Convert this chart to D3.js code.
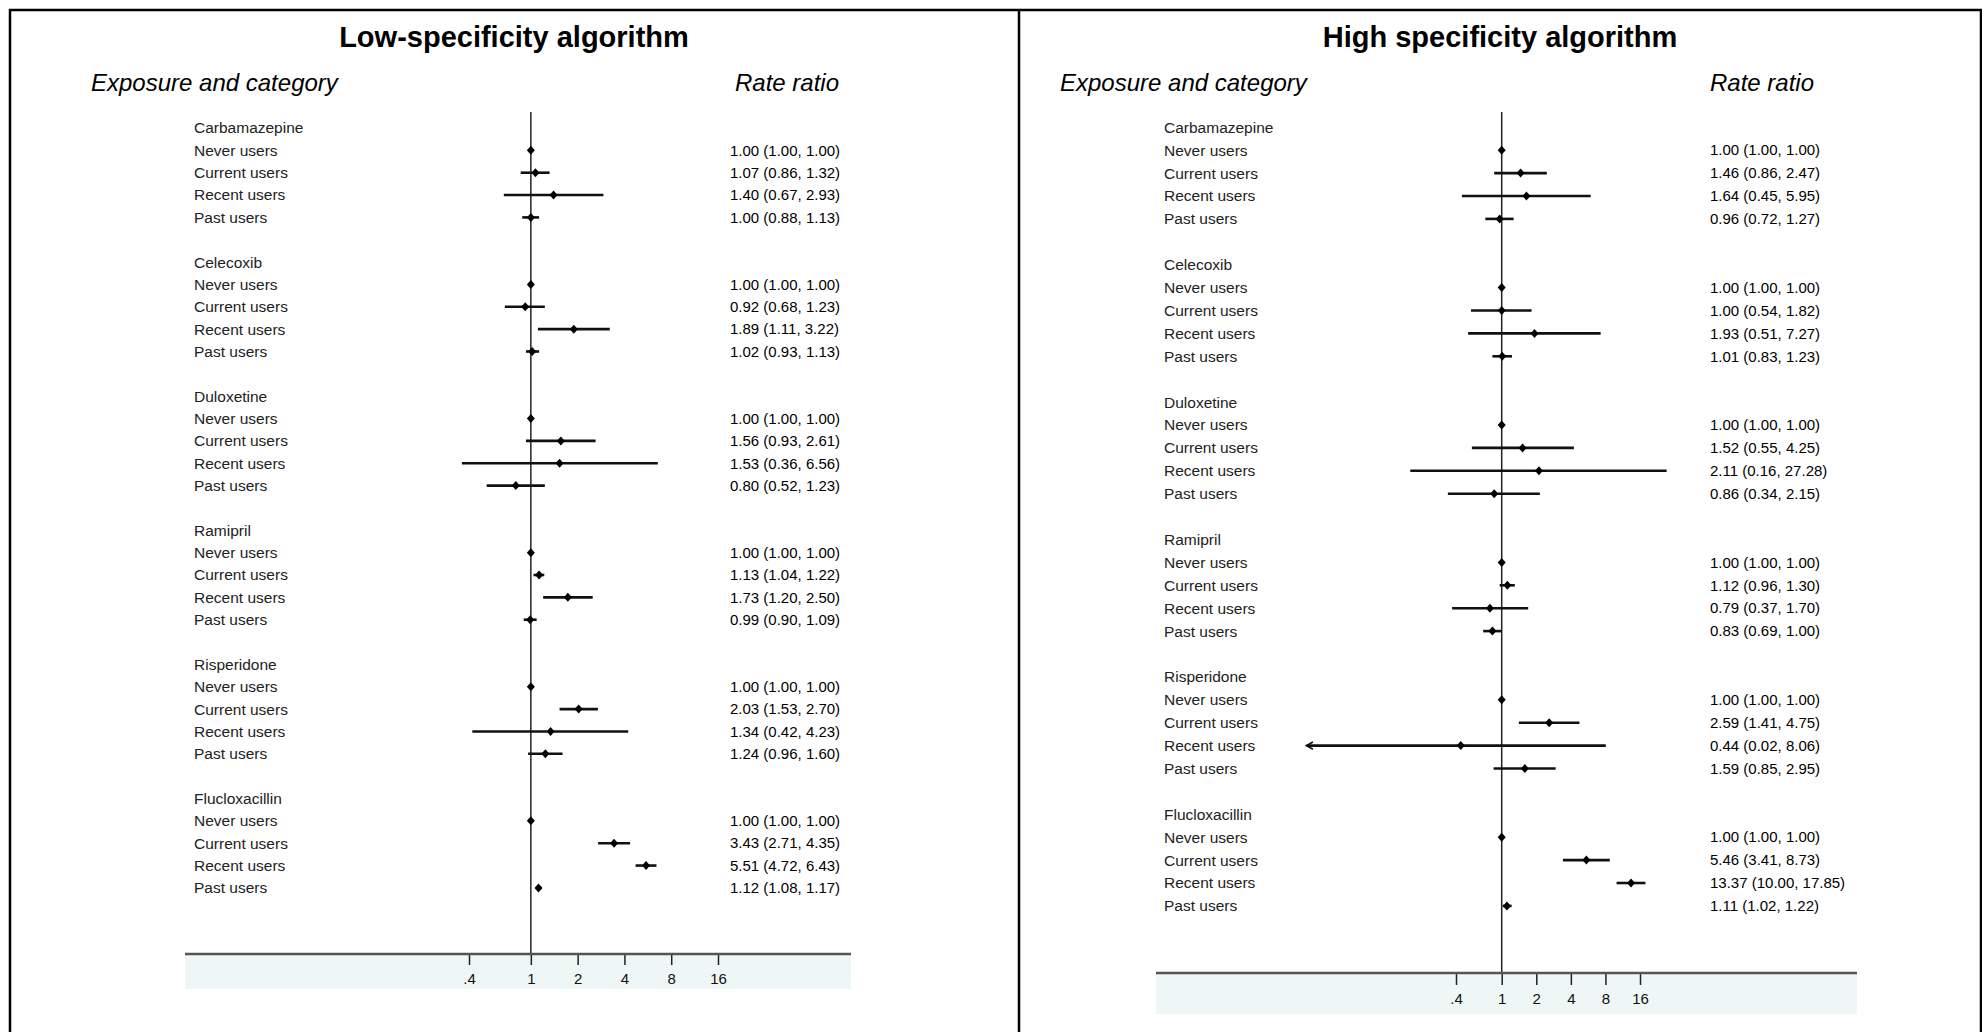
<!DOCTYPE html>
<html>
<head>
<meta charset="utf-8">
<script src="https://cdn.jsdelivr.net/npm/d3@7"></script>
<style>
body { margin: 0; background: #fff; }
svg text { font-family: "Liberation Sans", Arial, sans-serif; }
</style>
</head>
<body>
<svg width="1982" height="1032"></svg>
<script>
// drugs and exposure categories (same in both panels)
const drugs = ["Carbamazepine", "Celecoxib", "Duloxetine", "Ramipril", "Risperidone", "Flucloxacillin"];
const categories = ["Never users", "Current users", "Recent users", "Past users"];
const tickVals = [0.4, 1, 2, 4, 8, 16];
const tickLabels = [".4", "1", "2", "4", "8", "16"];

// low-specificity algorithm: rate ratio, lower, upper (per drug, per category)
const lowRR = [1.00, 1.07, 1.40, 1.00,  1.00, 0.92, 1.89, 1.02,  1.00, 1.56, 1.53, 0.80,
               1.00, 1.13, 1.73, 0.99,  1.00, 2.03, 1.34, 1.24,  1.00, 3.43, 5.51, 1.12];
const lowLo = [1.00, 0.86, 0.67, 0.88,  1.00, 0.68, 1.11, 0.93,  1.00, 0.93, 0.36, 0.52,
               1.00, 1.04, 1.20, 0.90,  1.00, 1.53, 0.42, 0.96,  1.00, 2.71, 4.72, 1.08];
const lowHi = [1.00, 1.32, 2.93, 1.13,  1.00, 1.23, 3.22, 1.13,  1.00, 2.61, 6.56, 1.23,
               1.00, 1.22, 2.50, 1.09,  1.00, 2.70, 4.23, 1.60,  1.00, 4.35, 6.43, 1.17];

// high specificity algorithm
const highRR = [1.00, 1.46, 1.64, 0.96,  1.00, 1.00, 1.93, 1.01,  1.00, 1.52, 2.11, 0.86,
                1.00, 1.12, 0.79, 0.83,  1.00, 2.59, 0.44, 1.59,  1.00, 5.46, 13.37, 1.11];
const highLo = [1.00, 0.86, 0.45, 0.72,  1.00, 0.54, 0.51, 0.83,  1.00, 0.55, 0.16, 0.34,
                1.00, 0.96, 0.37, 0.69,  1.00, 1.41, 0.02, 0.85,  1.00, 3.41, 10.00, 1.02];
const highHi = [1.00, 2.47, 5.95, 1.27,  1.00, 1.82, 7.27, 1.23,  1.00, 4.25, 27.28, 2.15,
                1.00, 1.30, 1.70, 1.00,  1.00, 4.75, 8.06, 2.95,  1.00, 8.73, 17.85, 1.22];

const svg = d3.select("svg");
const f2 = d3.format(".2f");

// outer frame
svg.append("path")
  .attr("d", "M10,1040 V10 H1981 V1040 M1019,10 V1040")
  .attr("fill", "none").attr("stroke", "#000").attr("stroke-width", 2.5);

// open arrow head for a CI cut at the left
svg.append("defs").append("marker")
  .attr("id", "arrow").attr("viewBox", "0 0 10 10")
  .attr("refX", 2).attr("refY", 5)
  .attr("markerWidth", 3.5).attr("markerHeight", 5)
  .attr("markerUnits", "strokeWidth")
  .attr("orient", "auto")
  .append("path").attr("d", "M9,1 L2,5 L9,9")
  .attr("fill", "none").attr("stroke", "#111").attr("stroke-width", 1.8);

function drawPanel(p) {
  const g = svg.append("g");
  const x = d3.scaleLog().base(2).domain([0.4, 16]).range(p.xr);
  const y = d3.scaleLinear().domain([0, 34]).range([p.y0, p.y0 + 34 * p.step]);

  g.append("text").attr("x", p.titleX).attr("y", 47)
    .attr("text-anchor", "middle").style("font-size", "29px").style("font-weight", "bold")
    .text(p.title);
  g.append("text").attr("x", p.headL).attr("y", 91)
    .style("font-size", "24px").style("font-style", "italic").text("Exposure and category");
  g.append("text").attr("x", p.headR).attr("y", 91)
    .style("font-size", "24px").style("font-style", "italic").text("Rate ratio");

  // shaded axis strip
  g.append("rect").attr("x", p.axL).attr("y", p.axY)
    .attr("width", p.axR - p.axL).attr("height", p.bandH)
    .attr("fill", "#eef6f6");

  // reference line at 1
  g.append("line").attr("x1", x(1)).attr("x2", x(1))
    .attr("y1", 112).attr("y2", p.axY)
    .attr("stroke", "#222").attr("stroke-width", 1.5);

  const axis = g.append("g").attr("transform", "translate(0," + p.axY + ")")
    .call(d3.axisBottom(x).tickValues(tickVals)
      .tickFormat((d, i) => tickLabels[i]).tickSize(p.tick).tickPadding(p.pad));
  axis.select(".domain").remove();
  axis.selectAll(".tick line").attr("stroke", "#222").attr("stroke-width", 1.5);
  axis.selectAll(".tick text").style("font-size", "15px").attr("fill", "#111")
    .style("font-family", "Liberation Sans, Arial, sans-serif");

  g.append("line").attr("x1", p.axL).attr("x2", p.axR)
    .attr("y1", p.axY).attr("y2", p.axY)
    .attr("stroke", "#555").attr("stroke-width", 2.5);

  const rows = [];
  drugs.forEach((d, di) => {
    rows.push({ label: d, idx: di * 6 });
    categories.forEach((c, ci) => {
      const k = di * 4 + ci;
      rows.push({ label: c, idx: di * 6 + 1 + ci, rr: p.rr[k], lo: p.lo[k], hi: p.hi[k] });
    });
  });

  g.selectAll(".lab").data(rows).enter().append("text")
    .attr("x", p.labX).attr("y", d => y(d.idx)).attr("dy", "0.35em")
    .style("font-size", "15.5px").attr("fill", "#222").text(d => d.label);

  const est = rows.filter(d => d.rr !== undefined);

  g.selectAll(".val").data(est).enter().append("text")
    .attr("x", p.valX).attr("y", d => y(d.idx)).attr("dy", "0.35em")
    .style("font-size", "15px").attr("fill", "#000")
    .text(d => f2(d.rr) + " (" + f2(d.lo) + ", " + f2(d.hi) + ")");

  g.selectAll(".ci").data(est.filter(d => d.hi > d.lo)).enter().append("line")
    .attr("x1", d => x(d.lo)).attr("x2", d => x(d.hi))
    .attr("y1", d => y(d.idx)).attr("y2", d => y(d.idx))
    .attr("stroke", "#111").attr("stroke-width", 2.6)
    .attr("marker-start", d => d.lo < 0.05 ? "url(#arrow)" : null);

  g.selectAll(".pt").data(est).enter().append("path")
    .attr("transform", d => "translate(" + x(d.rr) + "," + y(d.idx) + ")")
    .attr("d", "M0,-4.5 L4,0 L0,4.5 L-4,0 Z")
    .attr("fill", "#000");
}

drawPanel({
  title: "Low-specificity algorithm", titleX: 514, headL: 91, headR: 735,
  labX: 194, valX: 730, xr: [469, 718], y0: 128, step: 22.35,
  axL: 185, axR: 851, axY: 954, bandH: 35, tick: 11, pad: 8,
  rr: lowRR, lo: lowLo, hi: lowHi
});

drawPanel({
  title: "High specificity algorithm", titleX: 1500, headL: 1060, headR: 1710,
  labX: 1164, valX: 1710, xr: [1456, 1640], y0: 127.3, step: 22.9,
  axL: 1156, axR: 1857, axY: 973, bandH: 41, tick: 12, pad: 8,
  rr: highRR, lo: highLo, hi: highHi
});
</script>
</body>
</html>
